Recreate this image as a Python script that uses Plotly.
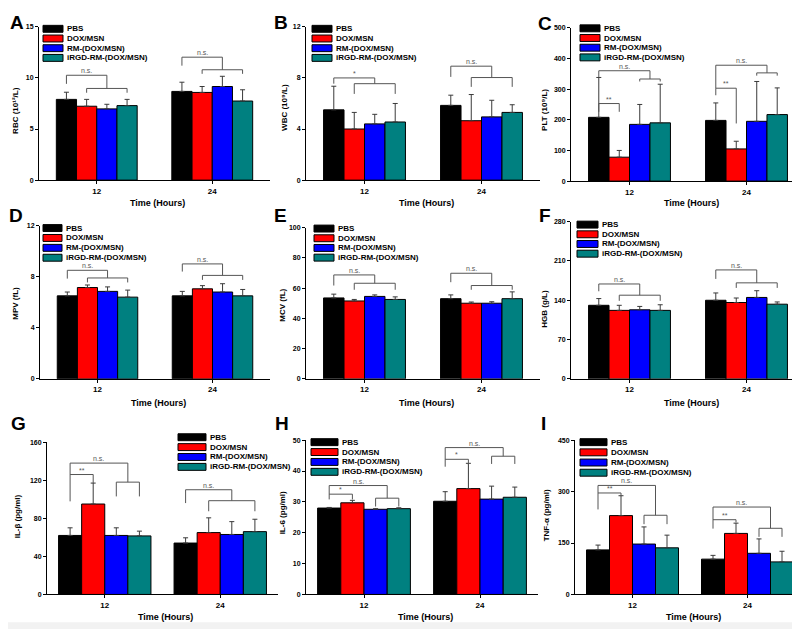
import plotly.graph_objects as go

W, H = 800, 629
FONT = "Liberation Sans, Arial, sans-serif"

groups = ["PBS", "DOX/MSN", "RM-(DOX/MSN)", "iRGD-RM-(DOX/MSN)"]
colors = ["#000000", "#FF0000", "#0000FF", "#008080"]
time_labels = ["12", "24"]
time_pos = [0, 1]
x_title = "Time (Hours)"

# significance brackets: (time index, left bar, right bar, level, left leg end, right leg end, label)
# A  RBC
rbc_12 = [7.9, 7.23, 6.97, 7.29]
rbc_12_sd = [0.7, 0.67, 0.45, 0.61]
rbc_24 = [8.68, 8.58, 9.16, 7.74]
rbc_24_sd = [0.9, 0.58, 1.0, 1.1]
rbc_sig = [(0, 0, 2, 10.26, 9.42, 8.97, "n.s."), (0, 1, 3, 8.97, 8.55, 8.55, ""),
           (1, 0, 2, 12.03, 11.2, 10.8, "n.s."), (1, 1, 3, 10.8, 10.4, 10.4, "")]
# B  WBC
wbc_12 = [5.5, 4.0, 4.4, 4.55]
wbc_12_sd = [1.85, 1.3, 0.75, 1.45]
wbc_24 = [5.85, 4.65, 4.95, 5.3]
wbc_24_sd = [0.8, 2.05, 1.3, 0.6]
wbc_sig = [(0, 0, 2, 8.0, 7.55, 7.55, "*"), (0, 1, 3, 7.55, 6.75, 6.75, ""),
           (1, 0, 2, 8.92, 8.08, 8.03, "n.s."), (1, 1, 3, 8.03, 7.3, 7.3, "")]
# C  PLT
plt_12 = [208, 78, 185, 190]
plt_12_sd = [130, 22, 65, 126]
plt_24 = [198, 105, 195, 217]
plt_24_sd = [57, 25, 130, 87]
plt_sig = [(0, 0, 1, 253, 226, 226, "**"), (0, 0, 2.5, 360, 339, 333, "n.s."), (0, 2, 3, 333, 325, 325, ""),
           (1, 0, 1, 303, 280, 188, "**"), (1, 0, 2.5, 378, 303, 353, "n.s."), (1, 2, 3, 353, 344, 344, "")]
# D  MPV
mpv_12 = [6.5, 7.15, 6.85, 6.4]
mpv_12_sd = [0.3, 0.2, 0.35, 0.55]
mpv_24 = [6.5, 7.05, 6.8, 6.5]
mpv_24_sd = [0.35, 0.25, 0.65, 0.5]
mpv_sig = [(0, 0, 2, 8.5, 7.85, 7.9, "n.s."), (0, 1, 3, 7.9, 7.55, 7.55, ""),
           (1, 0, 2, 9.0, 8.4, 8.1, "n.s."), (1, 1, 3, 8.1, 7.75, 7.75, "")]
# E  MCV
mcv_12 = [53.5, 51.5, 54.5, 52.5]
mcv_12_sd = [2.5, 1.0, 1.0, 1.7]
mcv_24 = [53, 50, 50, 53]
mcv_24_sd = [2.5, 0.8, 1.0, 4.5]
mcv_sig = [(0, 0, 2, 68.7, 61.7, 63.2, "n.s."), (0, 1, 3, 63.2, 58.9, 58.9, ""),
           (1, 0, 2, 69.8, 63.9, 61.7, "n.s."), (1, 1, 3, 61.7, 58.9, 58.9, "")]
# F  HGB
hgb_12 = [131, 122, 123, 122]
hgb_12_sd = [12, 9, 6, 10]
hgb_24 = [140, 136, 145, 133]
hgb_24_sd = [13, 8, 12, 4]
hgb_sig = [(0, 0, 2, 169, 156, 149, "n.s."), (0, 1, 3, 149, 139, 139, ""),
           (1, 0, 2, 194, 178, 171, "n.s."), (1, 1, 3, 171, 162, 162, "")]
# G  IL-beta
il1b_12 = [62, 95, 62, 61.5]
il1b_12_sd = [8, 22, 8, 5]
il1b_24 = [54, 65, 63, 66]
il1b_24_sd = [5.5, 15.5, 13.5, 13]
il1b_sig = [(0, 0, 2.5, 138, 97.8, 118, "n.s."), (0, 0, 1, 126, 126, 117, "**"), (0, 2, 3, 118, 103, 103, ""),
            (1, 0, 2, 110, 96, 98.5, "n.s."), (1, 1, 3, 98.5, 87.4, 87.4, "")]
# H  IL-6
il6_12 = [28, 29.7, 27.6, 27.8]
il6_12_sd = [0.2, 0.8, 0.2, 0.3]
il6_24 = [30.2, 34.3, 30.9, 31.5]
il6_24_sd = [3.1, 8.2, 4.2, 3.3]
il6_sig = [(0, 0, 2.5, 35.3, 30.8, 31.2, "n.s."), (0, 0, 1, 32.5, 32.5, 30.8, "*"), (0, 2, 3, 31.2, 28.5, 28.5, ""),
           (1, 0, 2.5, 47.6, 41.4, 44.8, "n.s."), (1, 0, 1, 43.8, 43.8, 42.0, "*"), (1, 2, 3, 44.8, 42.3, 42.3, "")]
# I  TNF-alpha
tnf_12 = [130, 230, 147, 136]
tnf_12_sd = [14, 58, 50, 37]
tnf_24 = [103, 178, 120, 95]
tnf_24_sd = [11, 30, 42, 31]
tnf_sig = [(0, 0, 2.5, 318, 248, 231, "n.s."), (0, 0, 1, 296, 296, 287, "**"), (0, 2, 3, 231, 205, 205, ""),
           (1, 0, 2.5, 255, 192, 193, "n.s."), (1, 0, 1, 218, 218, 210, "**"), (1, 2, 3, 193, 168, 168, "")]

panels = [
    dict(L="A", yt="RBC (10¹²/L)", yr=[0, 15], dt=5, m12=rbc_12, s12=rbc_12_sd, m24=rbc_24, s24=rbc_24_sd, sig=rbc_sig,
         box=(31, 262, 15, 170), gap=0.3, leg=(4, 17, 9.8, 20, 7), lxy=(8.5, 11), ytx=(8, 100), xty=193),
    dict(L="B", yt="WBC (10⁹/L)", yr=[0, 12], dt=4, m12=wbc_12, s12=wbc_12_sd, m24=wbc_24, s24=wbc_24_sd, sig=wbc_sig,
         box=(298, 532, 15, 170), gap=0.3, leg=(6, 17, 9.8, 20, 7), lxy=(273, 11), ytx=(277, 97), xty=193),
    dict(L="C", yt="PLT (10⁹/L)", yr=[0, 500], dt=100, m12=plt_12, s12=plt_12_sd, m24=plt_24, s24=plt_24_sd, sig=plt_sig,
         box=(563, 797, 16, 171), gap=0.3, leg=(9, 16.5, 9.8, 20, 7), lxy=(537, 12), ytx=(537, 99), xty=193),
    dict(L="D", yt="MPV (fL)", yr=[0, 12], dt=4, m12=mpv_12, s12=mpv_12_sd, m24=mpv_24, s24=mpv_24_sd, sig=mpv_sig,
         box=(32, 262, 216, 371), gap=0.3, leg=(3, 218.5, 10, 19, 7), lxy=(7.5, 206), ytx=(8, 295), xty=395),
    dict(L="E", yt="MCV (fL)", yr=[0, 100], dt=20, m12=mcv_12, s12=mcv_12_sd, m24=mcv_24, s24=mcv_24_sd, sig=mcv_sig,
         box=(298, 532, 218, 371), gap=0.3, leg=(8, 219, 9.8, 20, 7), lxy=(272, 206), ytx=(275, 297), xty=395),
    dict(L="F", yt="HGB (g/L)", yr=[0, 280], dt=70, m12=hgb_12, s12=hgb_12_sd, m24=hgb_24, s24=hgb_24_sd, sig=hgb_sig,
         box=(563, 797, 212, 371), gap=0.3, leg=(6, 215, 9.8, 21, 7), lxy=(537, 206), ytx=(537, 300), xty=395),
    dict(L="G", yt="IL-β (pg/ml)", yr=[0, 160], dt=40, m12=il1b_12, s12=il1b_12_sd, m24=il1b_24, s24=il1b_24_sd, sig=il1b_sig,
         box=(39, 270, 435, 589), gap=0.2, leg=(131, 430, 10, 28, 7), lxy=(10, 416), ytx=(9, 510), xty=612),
    dict(L="H", yt="IL-6 (pg/ml)", yr=[0, 50], dt=10, m12=il6_12, s12=il6_12_sd, m24=il6_24, s24=il6_24_sd, sig=il6_sig,
         box=(298, 530, 433, 589), gap=0.2, leg=(5, 435, 10, 27, 7), lxy=(274, 416), ytx=(274, 507), xty=612),
    dict(L="I", yt="TNF-α (pg/ml)", yr=[0, 450], dt=150, m12=tnf_12, s12=tnf_12_sd, m24=tnf_24, s24=tnf_24_sd, sig=tnf_sig,
         box=(567, 797, 433, 589), gap=0.2, leg=(5, 435, 10.3, 27, 7), lxy=(535, 416), ytx=(538, 509), xty=612),
]


def px(xp):
    return xp / W


def py(yp):
    return 1 - yp / H


fig = go.Figure()
# light grey strip at the bottom of the figure
shapes = [dict(type="rect", xref="paper", yref="paper", x0=0, x1=1, y0=0, y1=py(617),
               fillcolor="#f2f2f2", line=dict(width=0), layer="below")]
annots = []
layout = {}

for k, p in enumerate(panels, start=1):
    sx = "" if k == 1 else str(k)
    xa, ya = "x" + sx, "y" + sx
    x0, x1, yt, yb = p["box"]
    w = 1 - p["gap"]
    bw = w / 4

    for i in range(4):
        fig.add_trace(go.Bar(
            x=time_pos, y=[p["m12"][i], p["m24"][i]], name=groups[i],
            width=bw, offset=(i - 2) * bw,
            marker=dict(color=colors[i], line=dict(color="black", width=1)),
            error_y=dict(type="data", symmetric=False, array=[p["s12"][i], p["s24"][i]],
                         arrayminus=[0, 0], color="#3a3a3a", thickness=1, width=2.5),
            xaxis=xa, yaxis=ya, showlegend=False))

    layout["xaxis" + sx] = dict(
        domain=[px(x0), px(x1)], anchor=ya, range=[-0.5, 1.5],
        tickvals=time_pos, ticktext=time_labels, showline=True, linecolor="black", linewidth=1,
        ticks="outside", ticklen=3, tickcolor="black", showgrid=False, zeroline=False,
        tickfont=dict(family=FONT, size=8, color="black", weight="bold"))
    layout["yaxis" + sx] = dict(
        domain=[py(yb), py(yt)], anchor=xa, range=p["yr"], dtick=p["dt"], tick0=0,
        showline=True, linecolor="black", linewidth=1, ticks="outside", ticklen=3, tickcolor="black",
        showgrid=False, zeroline=False,
        tickfont=dict(family=FONT, size=7, color="black", weight="bold"))

    # significance brackets
    for (g, a, b, lev, ya_end, yb_end, lab) in p["sig"]:
        xl = time_pos[g] + (a - 1.5) * bw
        xr = time_pos[g] + (b - 1.5) * bw
        shapes.append(dict(type="path", xref=xa, yref=ya,
                           path=f"M {xl},{ya_end} L {xl},{lev} L {xr},{lev} L {xr},{yb_end}",
                           line=dict(color="#555555", width=1)))
        if lab:
            annots.append(dict(x=(xl + xr) / 2, y=lev, xref=xa, yref=ya, text=lab, showarrow=False,
                               yanchor="bottom", xanchor="center", yshift=-1,
                               font=dict(family=FONT, size=7, color="#555555")))

    # legend (per panel)
    dx, yc0, sp, pw, ph = p["leg"]
    for i in range(4):
        yc = yc0 + i * sp
        shapes.append(dict(type="rect", xref="paper", yref="paper",
                           x0=px(x0 + dx), x1=px(x0 + dx + pw), y0=py(yc + ph / 2), y1=py(yc - ph / 2),
                           fillcolor=colors[i], line=dict(color="black", width=1)))
        annots.append(dict(x=px(x0 + dx + pw + 1.5), y=py(yc), xref="paper", yref="paper",
                           text=groups[i], showarrow=False, xanchor="left", yanchor="middle",
                           font=dict(family=FONT, size=8, color="black", weight="bold")))

    # panel letter
    annots.append(dict(x=px(p["lxy"][0]), y=py(p["lxy"][1]), xref="paper", yref="paper", text=p["L"],
                       showarrow=False, xanchor="center", yanchor="middle",
                       font=dict(family=FONT, size=19, color="black", weight="bold")))
    # y title
    annots.append(dict(x=px(p["ytx"][0]), y=py(p["ytx"][1]), xref="paper", yref="paper", text=p["yt"],
                       showarrow=False, xanchor="center", yanchor="middle", textangle=-90,
                       font=dict(family=FONT, size=8, color="black", weight="bold")))
    # x title
    annots.append(dict(x=px((x0 + x1) / 2 + 3), y=py(p["xty"]), xref="paper", yref="paper", text=x_title,
                       showarrow=False, xanchor="center", yanchor="middle",
                       font=dict(family=FONT, size=9, color="black", weight="bold")))

fig.update_layout(
    width=W, height=H, margin=dict(l=0, r=0, t=0, b=0),
    paper_bgcolor="white", plot_bgcolor="white", barmode="overlay",
    shapes=shapes, annotations=annots, showlegend=False,
    font=dict(family=FONT), **layout)

fig.write_html("out.html")
